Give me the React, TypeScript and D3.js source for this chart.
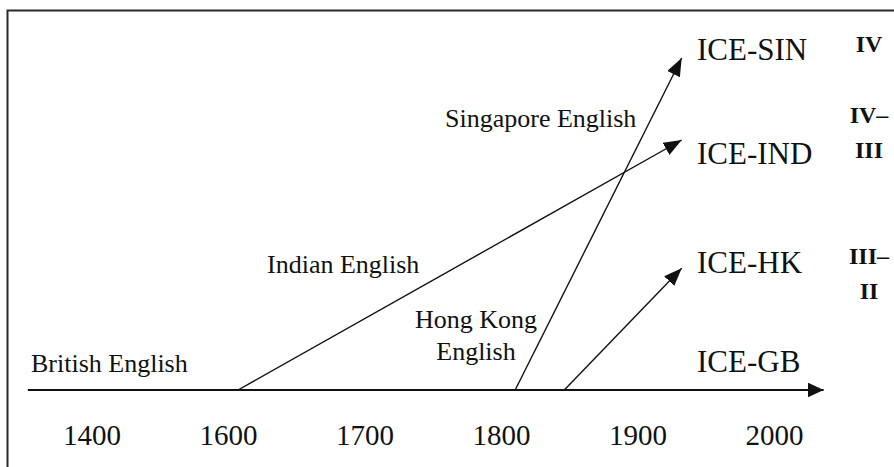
import React from "react";
import * as d3 from "d3";

// ---- data ----
const tickYears = [1400, 1600, 1700, 1800, 1900, 2000];
const axisStartYear = 1306;
const axisEndYear = 2036;

const branchNames = ["Indian English", "Singapore English", "Hong Kong English"];
const branchStartYears = [1607, 1810, 1846];
const branchEndYears = [1932, 1932, 1932];
const branchLevels = [75.3, 100, 36.7];

const corpusNames = ["ICE-GB", "ICE-HK", "ICE-IND", "ICE-SIN"];
const corpusLevels = [0, 36.7, 75.3, 100];

const phaseLabels = [["IV"], ["IV–", "III"], ["III–", "II"]];
const phaseLevels = [100, 75.3, 36.7];

const W = 894;
const H = 467;

export default function App() {
  const step = 136.5;
  const x0 = 92;
  const x = d3
    .scaleLinear()
    .domain([1400, 1600, 2000])
    .range([x0, x0 + step, x0 + 5 * step]);
  const y = d3.scaleLinear().domain([0, 100]).range([390, 58]);

  const font = "'Liberation Serif', 'Times New Roman', serif";
  const line = d3.line<[number, number]>();

  // layout offsets for corpus labels (baseline relative to level)
  const corpusDy = [-18, 5, 24, 2];
  // branch label positions (layout)
  const branchLabelPos = [
    { x: 267, y: 273, anchor: "start", lines: ["Indian English"] },
    { x: 445, y: 127, anchor: "start", lines: ["Singapore English"] },
    { x: 476, y: 328, anchor: "middle", lines: ["Hong Kong", "English"] },
  ];
  const phaseDy = [-6, -17, -4];

  return (
    <svg
      width={W}
      height={H}
      style={{ position: "absolute", left: 0, top: 0, background: "#fff" }}
    >
      <defs>
        <marker
          id="ah"
          viewBox="0 0 18 14"
          refX={18}
          refY={7}
          markerWidth={18}
          markerHeight={14}
          markerUnits="userSpaceOnUse"
          orient="auto"
        >
          <path d="M0,0 L18,7 L0,14 Z" fill="#111" />
        </marker>
        <marker
          id="ahAxis"
          viewBox="0 0 16 15"
          refX={16}
          refY={7.5}
          markerWidth={16}
          markerHeight={15}
          markerUnits="userSpaceOnUse"
          orient="auto"
        >
          <path d="M0,0 L16,7.5 L0,15 Z" fill="#111" />
        </marker>
      </defs>

      {/* frame */}
      <path d={`M7.5,${H + 5} L7.5,10.5 L${W + 5},10.5`} fill="none" stroke="#2a2a2a" strokeWidth={2} />

      {/* main axis */}
      <path
        d={line([
          [x(axisStartYear), y(0)],
          [x(axisEndYear), y(0)],
        ]) || ""}
        stroke="#111"
        strokeWidth={2}
        fill="none"
        markerEnd="url(#ahAxis)"
      />

      {/* branches */}
      {branchNames.map((n, i) => (
        <path
          key={n}
          d={line([
            [x(branchStartYears[i]), y(0)],
            [x(branchEndYears[i]), y(branchLevels[i])],
          ]) || ""}
          stroke="#111"
          strokeWidth={1.4}
          fill="none"
          markerEnd="url(#ah)"
        />
      ))}

      {/* tick labels */}
      {tickYears.map((t) => (
        <text
          key={t}
          x={x(t)}
          y={445}
          textAnchor="middle"
          fontFamily={font}
          fontSize={29}
          fill="#111"
        >
          {t}
        </text>
      ))}

      {/* British English */}
      <text x={31} y={372} fontFamily={font} fontSize={26} fill="#111">
        British English
      </text>

      {/* branch labels */}
      {branchLabelPos.map((p, i) => (
        <text
          key={branchNames[i]}
          x={p.x}
          y={p.y}
          textAnchor={p.anchor as any}
          fontFamily={font}
          fontSize={26}
          fill="#111"
        >
          {p.lines.map((l, j) => (
            <tspan key={j} x={p.x} dy={j === 0 ? 0 : 32}>
              {l}
            </tspan>
          ))}
        </text>
      ))}

      {/* corpus labels */}
      {corpusNames.map((c, i) => (
        <text
          key={c}
          x={697}
          y={y(corpusLevels[i]) + corpusDy[i]}
          fontFamily={font}
          fontSize={31}
          fill="#111"
        >
          {c}
        </text>
      ))}

      {/* phase labels */}
      {phaseLabels.map((ls, i) => (
        <text
          key={i}
          x={869}
          y={y(phaseLevels[i]) + phaseDy[i]}
          textAnchor="middle"
          fontFamily={font}
          fontSize={24}
          fontWeight="bold"
          fill="#111"
        >
          {ls.map((l, j) => (
            <tspan key={j} x={869} dy={j === 0 ? 0 : 35}>
              {l}
            </tspan>
          ))}
        </text>
      ))}
    </svg>
  );
}
